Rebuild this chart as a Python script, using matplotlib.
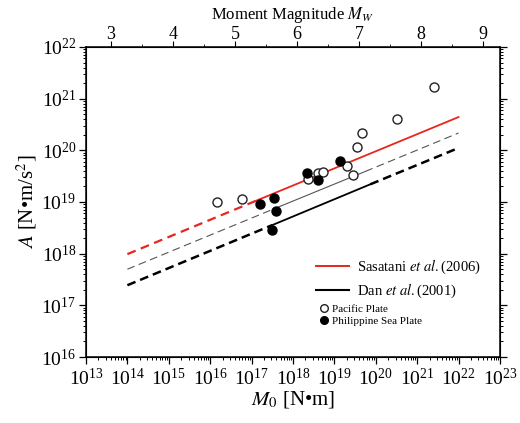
import matplotlib.pyplot as plt
from matplotlib.lines import Line2D
from matplotlib.ticker import LogLocator, NullFormatter, MultipleLocator

plt.rcParams['font.family'] = ['Liberation Serif', 'DejaVu Serif']
plt.rcParams['mathtext.fontset'] = 'stix'

# Pacific Plate events (open circles)
pac_m0 = [1.44e16, 5.74e16, 2.36e18, 4.11e18, 5.43e18, 2.06e19, 2.87e19, 3.58e19, 4.73e19, 3.30e20, 2.57e21]
pac_a = [1.00e19, 1.14e19, 2.79e19, 3.64e19, 3.80e19, 4.98e19, 3.33e19, 1.16e20, 2.16e20, 4.04e20, 1.68e21]

# Philippine Sea Plate events (filled circles)
phi_m0 = [1.56e17, 3.39e17, 4.00e17, 3.03e17, 2.23e18, 4.11e18, 1.40e19]
phi_a = [9.14e18, 1.19e19, 6.70e18, 2.87e18, 3.64e19, 2.67e19, 6.21e19]

# scaling lines: knot points (dashed outside data range, solid inside)
sasatani_m0 = [1e14, 1.26e17, 1e22]
sasatani_a = [9.8e17, 1.05e19, 4.4e20]
mid_m0 = [1e14, 5.0e17, 5.6e19, 1e22]
mid_a = [5.0e17, 8.3e18, 3.9e19, 2.16e20]
dan_m0 = [1e14, 3.16e17, 7.4e19, 1e22]
dan_a = [2.45e17, 3.57e18, 2.2e19, 1.11e20]

x_ticks = [1e13, 1e14, 1e15, 1e16, 1e17, 1e18, 1e19, 1e20, 1e21, 1e22, 1e23]
y_ticks = [1e16, 1e17, 1e18, 1e19, 1e20, 1e21, 1e22]
mw_ticks = [3, 4, 5, 6, 7, 8, 9]

fig = plt.figure(figsize=(5.2, 4.23), dpi=100)
ax = fig.add_axes([0.1654, 0.156, 0.796, 0.733])

red = '#e8261c'
# Sasatani et al. (2006)
ax.plot(sasatani_m0[:2], sasatani_a[:2], color=red, lw=1.6, dashes=(4, 2.5))
ax.plot(sasatani_m0[1:], sasatani_a[1:], color=red, lw=1.3)
# thin middle line
ax.plot(mid_m0[:2], mid_a[:2], color='#555555', lw=0.8, dashes=(7, 4))
ax.plot(mid_m0[1:3], mid_a[1:3], color='#555555', lw=0.8)
ax.plot(mid_m0[2:], mid_a[2:], color='#555555', lw=0.8, dashes=(7, 4))
# Dan et al. (2001)
ax.plot(dan_m0[:2], dan_a[:2], color='black', lw=1.8, dashes=(3.5, 2))
ax.plot(dan_m0[1:3], dan_a[1:3], color='black', lw=1.3)
ax.plot(dan_m0[2:], dan_a[2:], color='black', lw=1.8, dashes=(3.5, 2))

ax.plot(pac_m0, pac_a, 'o', ms=6.5, mfc='white', mec='#222222', mew=1.0, ls='none')
ax.plot(phi_m0, phi_a, 'o', ms=6.5, mfc='black', mec='black', ls='none')

ax.set_xscale('log')
ax.set_yscale('log')
ax.set_xlim(1e13, 1e23)
ax.set_ylim(1e16, 1e22)
ax.set_xticks(x_ticks)
ax.set_yticks(y_ticks)
ax.xaxis.set_minor_locator(LogLocator(base=10, subs=range(2, 10), numticks=20))
ax.yaxis.set_minor_locator(LogLocator(base=10, subs=range(2, 10), numticks=20))
ax.xaxis.set_minor_formatter(NullFormatter())
ax.yaxis.set_minor_formatter(NullFormatter())
ax.tick_params(which='both', direction='out', top=True, right=True, labelsize=14, pad=2)
ax.tick_params(axis='x', which='both', pad=3)
ax.tick_params(which='major', length=5, width=0.9)
ax.tick_params(which='minor', length=2.5, width=0.7)
for s in ax.spines.values():
    s.set_linewidth(1.1)

ax.set_xlabel(r'$M_0$ [N•m]', fontsize=15, labelpad=0)
ax.set_ylabel(r'$A$ [N•m/s$^2$]', fontsize=15, labelpad=2)

# top axis: moment magnitude
ax2 = ax.twiny()
ax2.set_xlim((13 - 9.1) / 1.5, (23 - 9.1) / 1.5)
ax2.set_xticks(mw_ticks)
ax2.xaxis.set_minor_locator(MultipleLocator(0.5))
ax2.tick_params(which='major', direction='out', length=4, labelsize=13, pad=-1)
ax2.tick_params(which='minor', direction='out', length=2.5)
ax2.set_xlabel(r'Moment Magnitude $M_W$', fontsize=12, labelpad=5)

line_handles = [Line2D([], [], color=red, lw=1.4),
                Line2D([], [], color='black', lw=1.5)]
leg1 = ax.legend(line_handles, [r'Sasatani $\mathit{et\ al.}$(2006)', r'Dan $\mathit{et\ al.}$(2001)'],
                 loc='upper left', bbox_to_anchor=(0.555, 0.32), frameon=False,
                 fontsize=10.5, handlelength=2.3, handletextpad=0.5,
                 labelspacing=0.4, borderpad=0, borderaxespad=0)
ax.add_artist(leg1)
mk_handles = [Line2D([], [], marker='o', ls='none', ms=5.5, mfc='white', mec='#222222'),
              Line2D([], [], marker='o', ls='none', ms=5.5, mfc='black', mec='black')]
ax.legend(mk_handles, ['Pacific Plate', 'Philippine Sea Plate'],
          loc='upper left', bbox_to_anchor=(0.565, 0.17), frameon=False,
          fontsize=8, handlelength=0.8, handletextpad=0.3,
          labelspacing=0.15, borderpad=0, borderaxespad=0)

fig.savefig('out.png', dpi=100)
